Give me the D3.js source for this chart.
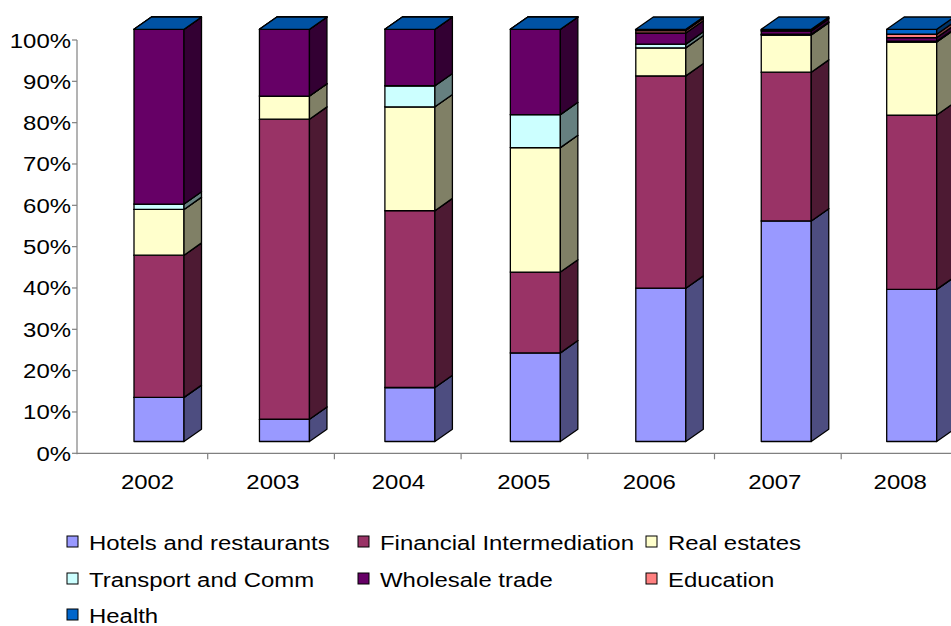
<!DOCTYPE html>
<html>
<head>
<meta charset="utf-8">
<script src="https://cdn.jsdelivr.net/npm/d3@7"></script>
<style>
  html, body { margin: 0; padding: 0; background: #fff; }
  svg text { font-family: "Liberation Sans", Arial, sans-serif; fill: #000; }
</style>
</head>
<body>
<svg id="chart" width="951" height="626"></svg>
<script>
// Share of each sector per year (percent of the yearly total)
const years = ["2002", "2003", "2004", "2005", "2006", "2007", "2008"];
const hotels      = [10.7,  5.4, 13.1, 21.5, 37.2, 53.5, 36.9];
const financial   = [34.5, 72.8, 42.9, 19.6, 51.5, 36.1, 42.3];
const realEstates = [11.1,  5.6, 25.2, 30.2,  6.8,  9.0, 17.7];
const transport   = [ 1.3,  0.0,  5.1,  8.0,  0.9,  0.2,  0.2];
const wholesale   = [42.4, 16.2, 13.7, 20.7,  2.7,  0.8,  0.9];
const education   = [ 0.0,  0.0,  0.0,  0.0,  0.6,  0.2,  0.8];
const health      = [ 0.0,  0.0,  0.0,  0.0,  0.3,  0.2,  1.2];

const seriesNames = ["Hotels and restaurants", "Financial Intermediation", "Real estates",
                     "Transport and Comm", "Wholesale trade", "Education", "Health"];
const seriesValues = [hotels, financial, realEstates, transport, wholesale, education, health];
const seriesColors = ["#9999FF", "#993366", "#FFFFCC", "#CCFFFF", "#660066", "#FF8080", "#0066CC"];
const yTicks = [0, 10, 20, 30, 40, 50, 60, 70, 80, 90, 100];

const svg = d3.select("#chart");
const STRETCH = 1.14;          // horizontal text stretch
const FONT = 21;

// value axis on the back wall, bars on the front plane
const yAxisScale = d3.scaleLinear().domain([0, 100]).range([453.3, 40]);
const yFront = d3.scaleLinear().domain([0, 100]).range([441.5, 29.3]);

// category ticks along the floor and bar positions (front-left corner)
const xTicks = d3.scaleBand().domain(years).range([81, 81 + 7 * 126.7]);
const xBar = d3.scalePoint().domain(years).range([134, 134 + 6 * 125.45]);
const barW = 50, depthX = 17.5, depthY = 12.3;

// normalise to 100% stacks
const stacked = years.map((yr, i) => {
  const total = d3.sum(seriesValues, s => s[i]);
  let acc = 0;
  return seriesValues.map((s, k) => {
    const v0 = acc; acc += s[i] / total * 100;
    return { year: yr, k, v0, v1: acc };
  });
});

// axes
const axisColor = "#808080";
const gAxis = svg.append("g");
gAxis.append("line").attr("x1", 77).attr("x2", 77)
  .attr("y1", yAxisScale(100)).attr("y2", yAxisScale(0) + 1)
  .attr("stroke", axisColor).attr("stroke-width", 1.2);
gAxis.append("line").attr("x1", 77).attr("x2", 951)
  .attr("y1", yAxisScale(0)).attr("y2", yAxisScale(0))
  .attr("stroke", axisColor).attr("stroke-width", 1.2);
yTicks.forEach(t => {
  gAxis.append("line").attr("x1", 72).attr("x2", 77)
    .attr("y1", yAxisScale(t)).attr("y2", yAxisScale(t))
    .attr("stroke", axisColor).attr("stroke-width", 1.2);
  gAxis.append("text")
    .attr("transform", `translate(71,${yAxisScale(t) + 7.5}) scale(${STRETCH},1)`)
    .attr("text-anchor", "end").attr("font-size", FONT)
    .text(t + "%");
});
years.forEach((yr, i) => {
  if (i > 0) {
    gAxis.append("line").attr("x1", xTicks(yr)).attr("x2", xTicks(yr))
      .attr("y1", yAxisScale(0)).attr("y2", yAxisScale(0) + 6)
      .attr("stroke", axisColor).attr("stroke-width", 1.2);
  }
  gAxis.append("text")
    .attr("transform", `translate(${xBar(yr) + 13.5},489) scale(${STRETCH},1)`)
    .attr("text-anchor", "middle").attr("font-size", FONT)
    .text(yr);
});

// 3D stacked columns
const shade = (c, f) => { const r = d3.rgb(c); return d3.rgb(r.r * f, r.g * f, r.b * f).formatHex(); };
const gBars = svg.append("g").attr("stroke", "#000").attr("stroke-width", 1.3).attr("stroke-linejoin", "round");
stacked.forEach(stack => {
  stack.forEach(seg => {
    const x0 = xBar(seg.year), x1 = x0 + barW;
    const yb = yFront(seg.v0), yt = yFront(seg.v1);
    const col = seriesColors[seg.k];
    // front face
    gBars.append("rect").attr("x", x0).attr("y", yt)
      .attr("width", barW).attr("height", Math.max(0, yb - yt))
      .attr("fill", col);
    // right side face
    gBars.append("path")
      .attr("d", `M${x1},${yb}L${x1 + depthX},${yb - depthY}L${x1 + depthX},${yt - depthY}L${x1},${yt}Z`)
      .attr("fill", shade(col, 0.5));
    // top face
    gBars.append("path")
      .attr("d", `M${x0},${yt}L${x0 + depthX},${yt - depthY}L${x1 + depthX},${yt - depthY}L${x1},${yt}Z`)
      .attr("fill", shade(col, 0.8));
  });
});

// legend
const legendCols = [67, 358, 646];
const legendRows = [542, 579, 615];
const gLeg = svg.append("g");
seriesNames.forEach((name, k) => {
  const cx = legendCols[k % 3], cy = legendRows[Math.floor(k / 3)];
  gLeg.append("rect").attr("x", cx).attr("y", cy - 6).attr("width", 11).attr("height", 11)
    .attr("fill", seriesColors[k]).attr("stroke", "#000").attr("stroke-width", 1);
  gLeg.append("text")
    .attr("transform", `translate(${cx + 22},${cy + 7.5}) scale(${STRETCH},1)`)
    .attr("font-size", FONT)
    .text(name);
});
</script>
</body>
</html>
